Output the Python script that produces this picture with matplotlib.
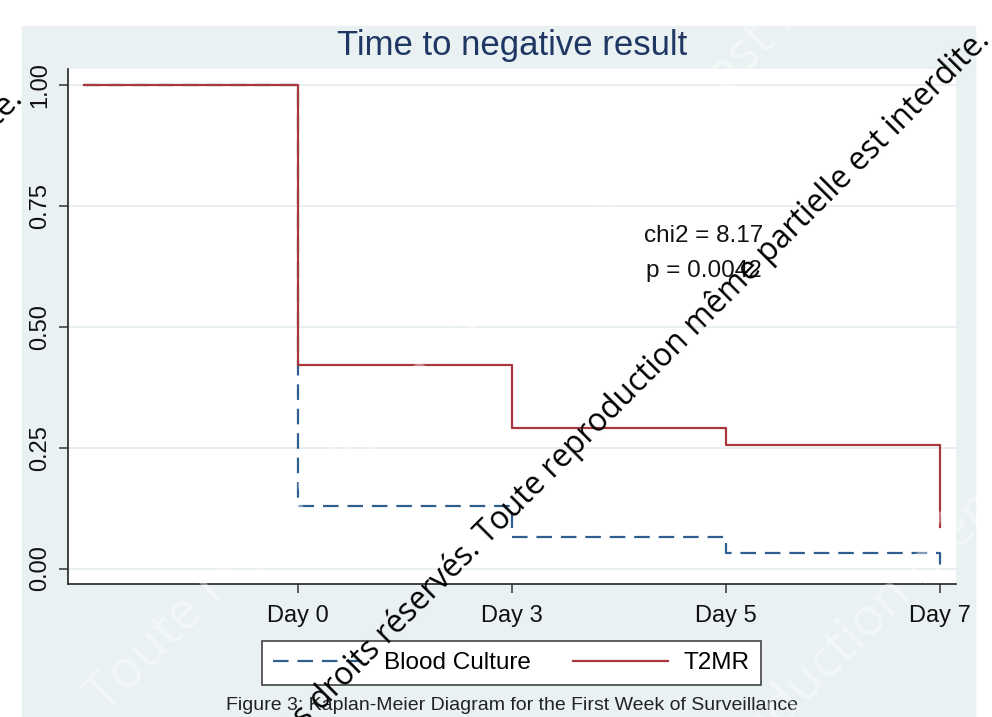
import matplotlib.pyplot as plt
import matplotlib as mpl
from matplotlib.patches import Rectangle

plt.rcParams['font.family'] = ['Liberation Sans', 'DejaVu Sans']

# Kaplan-Meier estimates at each follow-up step
steps = [0, 1, 2, 3, 4]
tick_pos = [1, 2, 3, 4]
tick_labels = ["Day 0", "Day 3", "Day 5", "Day 7"]
blood_culture = [1.0, 0.13, 0.065, 0.033, 0.0]
t2mr = [1.0, 0.42, 0.29, 0.255, 0.085]
y_ticks = [0.0, 0.25, 0.5, 0.75, 1.0]

chi2_text = "chi2 = 8.17"
p_text = "p = 0.0042"
watermark = "Tous droits réservés. Toute reproduction même partielle est interdite."

W, H = 992, 717
PANEL = "#eaf1f3"
BLUE = "#2f5f8e"
RED = "#a8383e"


def px(x, y):
    # pixel position (from top-left) -> figure fraction
    return x / W, 1 - y / H


figure = plt.figure(figsize=(W / 100, H / 100), dpi=100)
figure.patches.append(Rectangle(px(22, 717), (975 - 22) / W, (717 - 26) / H,
                                transform=figure.transFigure, color=PANEL, zorder=-5))

left, bottom = px(67.5, 583.5)
axis = figure.add_axes([left, bottom, (956 - 67.5) / W, (583.5 - 69) / H])
axis.set_facecolor("white")

axis.step(steps, blood_culture, where="post", color=BLUE, lw=1.6, dashes=(7, 4), label="Blood Culture")
axis.step(steps, t2mr, where="post", color=RED, lw=1.6, label="T2MR")

axis.set_xlim(-0.075, 4.075)
axis.set_ylim(-0.031, 1.033)
axis.set_xticks(tick_pos)
axis.set_xticklabels(tick_labels)
axis.set_yticks(y_ticks)
axis.set_yticklabels([f"{v:.2f}" for v in y_ticks], rotation=90, va="center")
axis.tick_params(axis="both", labelsize=17, length=6.5, width=1.1, color="#333333", labelcolor="#111111")
axis.tick_params(axis="y", pad=5)
axis.tick_params(axis="x", pad=9)
axis.grid(axis="y", color="#e2ebee", lw=1.1)
axis.set_axisbelow(True)
for side in ["top", "right"]:
    axis.spines[side].set_visible(False)
for side in ["left", "bottom"]:
    axis.spines[side].set_color("#333333")
    axis.spines[side].set_linewidth(1.3)

axis.text(2.898, 0.688, chi2_text, ha="center", va="center", fontsize=17.5, color="#111111")
axis.text(2.898, 0.615, p_text, ha="center", va="center", fontsize=17.5, color="#111111")

figure.text(*px(512, 46), "Time to negative result", ha="center", va="center", fontsize=25, color="#1f3763")

legend = figure.legend(loc="center", bbox_to_anchor=px(511.5, 663), ncol=2, fontsize=17.5,
                       handlelength=3.9, handletextpad=0.65, columnspacing=1.75,
                       fancybox=False, framealpha=1, edgecolor="#333333", borderpad=0.45)
legend.get_frame().set_linewidth(1.1)

figure.text(*px(512, 706), "Figure 3: Kaplan-Meier Diagram for the First Week of Surveillance",
            ha="center", va="center", fontsize=14, color="#222222")

# faint background watermark
for cx, cy in [(330, 470), (800, 690)]:
    figure.text(*px(cx, cy), watermark, rotation=45, rotation_mode="anchor", ha="center", va="center",
                fontsize=38, family=["Open Sans", "DejaVu Sans"], color="white", alpha=0.4, zorder=5)

# black watermark
figure.text(*px(622, 398), watermark, rotation=45, rotation_mode="anchor", ha="center", va="center",
            fontsize=22.8, family=["Open Sans", "DejaVu Sans"], color="black", zorder=10)
figure.text(*px(24, 100), watermark, rotation=45, rotation_mode="anchor", ha="right", va="baseline",
            fontsize=22.8, family=["Open Sans", "DejaVu Sans"], color="black", zorder=10)

plt.savefig("out.png", dpi=100)
